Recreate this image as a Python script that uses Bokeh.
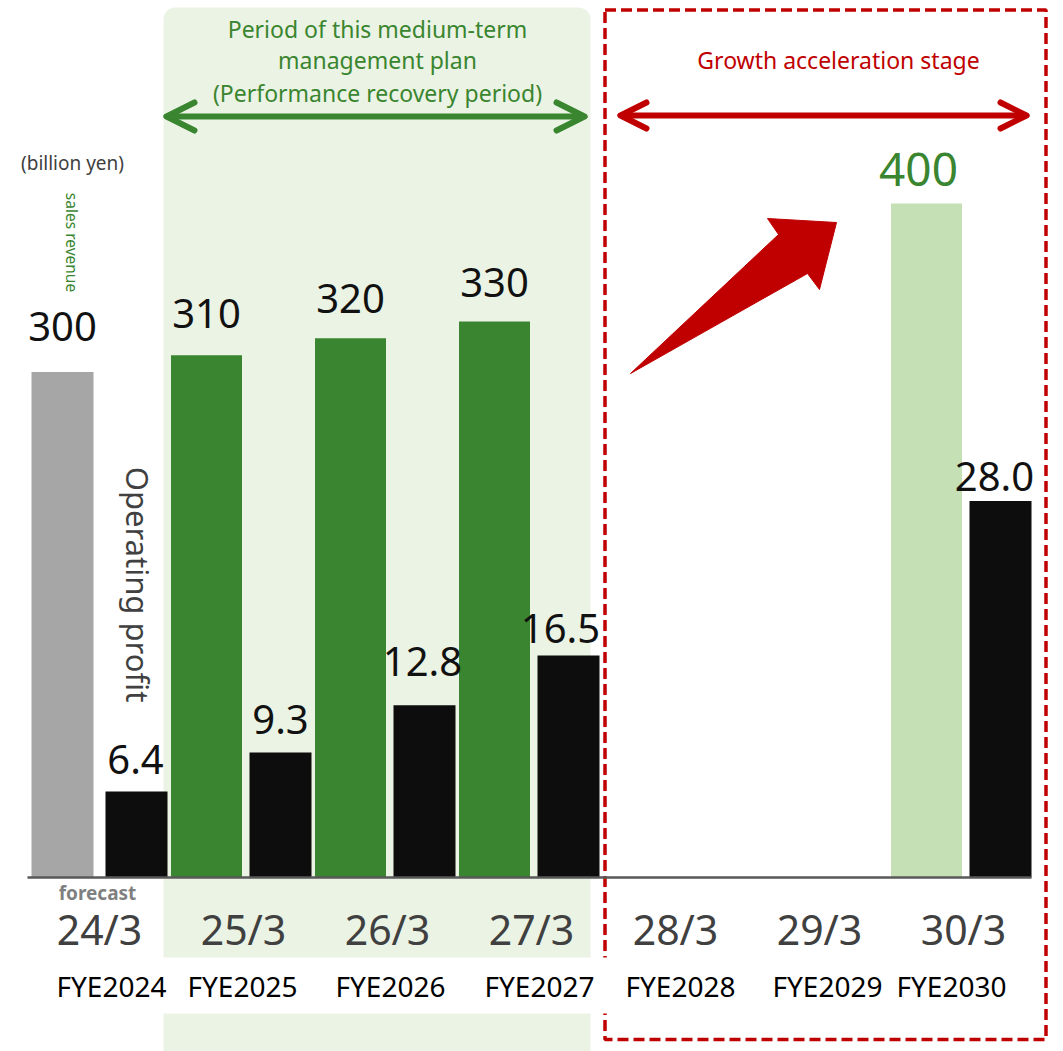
import math
from bokeh.plotting import figure
from bokeh.models import Range1d, ColumnDataSource, Arrow, OpenHead
from bokeh.core.properties import value
from bokeh.embed import file_html
from bokeh.resources import INLINE

# ---------------- data ----------------
periods = ["24/3", "25/3", "26/3", "27/3", "28/3", "29/3", "30/3"]
fiscal_years = ["FYE2024", "FYE2025", "FYE2026", "FYE2027", "FYE2028", "FYE2029", "FYE2030"]
sales_revenue = [300, 310, 320, 330, None, None, 400]
operating_profit = [6.4, 9.3, 12.8, 16.5, None, None, 28.0]
sales_text = ["300", "310", "320", "330", None, None, "400"]
profit_text = ["6.4", "9.3", "12.8", "16.5", None, None, "28.0"]

# ---------------- styles ----------------
W, H = 1063, 1051
GROUP_PX = 144.0     # pixels per period
FIRST_PX = 99.0      # pixel centre of first period
BASE_PX = 877.0      # baseline (pixels from top)
SALES_PX = 1.685     # px per billion yen (sales)
PROFIT_PX = 13.45    # px per billion yen (profit)
OFF = 37.0 / GROUP_PX
BL = 0.41            # svg baseline correction (fraction of font size)

GREEN = "#3A852F"
LIGHT_GREEN = "#C5E0B4"
PANEL = "#EBF3E4"
GRAY = "#A6A6A6"
BLACK = "#0D0D0D"
RED = "#C00000"
DARK = "#404040"
FONT = value("Noto Sans")

sales_colors = [GRAY, GREEN, GREEN, GREEN, None, None, LIGHT_GREEN]
sales_widths = [62, 71, 71, 71, None, None, 71]
sales_label_colors = ["#111111"] * 4 + [None, None, GREEN]
sales_label_px = [40, 40, 40, 40, None, None, 46]
sales_gap = [29, 25, 23, 23, None, None, 15]
profit_gap = [16, 17, 27, 11, None, None, 8]
profit_nudge = [-1, 0, -2, -8, None, None, -6]
sales_nudge = [0, 0, 0, 0, None, None, -8]
fye_nudge = [12, -1, 3, 8, 5, 8, -12]
VAL_PX = 40


def base(y, size):
    return y - BL * size


p = figure(width=W, height=H, output_backend="svg", toolbar_location=None,
           x_axis_type=None, y_axis_type=None, min_border=0,
           x_range=Range1d(-FIRST_PX / GROUP_PX, (W - FIRST_PX) / GROUP_PX),
           y_range=Range1d(-(H - BASE_PX) / SALES_PX, BASE_PX / SALES_PX))
p.extra_y_ranges = {
    "profit": Range1d(-(H - BASE_PX) / PROFIT_PX, BASE_PX / PROFIT_PX),
    "px": Range1d(H, 0),
}
p.extra_x_ranges = {"px": Range1d(0, W)}
p.outline_line_color = None
p.grid.visible = False
p.background_fill_color = "white"
p.border_fill_color = "white"

# background panel for plan period
p.quad(left=[163], right=[590], top=[7], bottom=[1070], fill_color=PANEL,
       line_color=None, border_radius=12, x_range_name="px", y_range_name="px")
# growth stage dashed frame
p.quad(left=[604.5], right=[1045.5], top=[9.5], bottom=[1039], fill_color=None,
       line_color=RED, line_width=3.5, line_dash="11 5",
       x_range_name="px", y_range_name="px")
# white band behind FYE labels
p.quad(left=[0], right=[610], top=[957], bottom=[1013], fill_color="white",
       line_color=None, x_range_name="px", y_range_name="px")

# ---------------- bars ----------------
idx = list(range(len(periods)))
s_rows = [i for i in idx if sales_revenue[i] is not None]
p_rows = [i for i in idx if operating_profit[i] is not None]

sales_src = ColumnDataSource(dict(
    x=[i - OFF for i in s_rows],
    top=[sales_revenue[i] for i in s_rows],
    w=[sales_widths[i] / GROUP_PX for i in s_rows],
    color=[sales_colors[i] for i in s_rows],
    label=[sales_text[i] for i in s_rows],
    lcolor=[sales_label_colors[i] for i in s_rows],
    lsize=["%dpx" % sales_label_px[i] for i in s_rows],
    gap=[-(sales_gap[i] + BL * sales_label_px[i]) for i in s_rows],
    nudge=[sales_nudge[i] for i in s_rows],
))
profit_src = ColumnDataSource(dict(
    x=[i + OFF for i in p_rows],
    top=[operating_profit[i] for i in p_rows],
    label=[profit_text[i] for i in p_rows],
    gap=[-(profit_gap[i] + BL * VAL_PX) for i in p_rows],
    nudge=[profit_nudge[i] for i in p_rows],
))

p.vbar(x="x", top="top", bottom=0, width="w", source=sales_src,
       fill_color="color", line_color=None)
p.vbar(x="x", top="top", bottom=0, width=62 / GROUP_PX, source=profit_src,
       fill_color=BLACK, line_color=None, y_range_name="profit")

# baseline
p.line(x=[27, 1031], y=[BASE_PX, BASE_PX], line_color="#595959", line_width=2.5,
       x_range_name="px", y_range_name="px")

# value labels
p.text(x="x", y="top", text="label", source=sales_src, text_align="center",
       text_baseline="alphabetic", text_font=FONT, text_font_size="lsize",
       text_color="lcolor", y_offset="gap", x_offset="nudge")
p.text(x="x", y="top", text="label", source=profit_src, text_align="center",
       text_baseline="alphabetic", text_font=FONT, text_font_size="%dpx" % VAL_PX,
       text_color="#111111", y_offset="gap", x_offset="nudge", y_range_name="profit")

# period labels
p.text(x=idx, y=[base(945, 41)] * len(idx), text=periods, text_align="center",
       text_baseline="alphabetic", text_font=FONT, text_font_size="41px",
       text_color=DARK, y_range_name="px")
p.text(x=idx, y=[base(997, 28)] * len(idx), text=fiscal_years, x_offset=fye_nudge,
       text_align="center", text_baseline="alphabetic", text_font=FONT,
       text_font_size="28px", text_color="black", y_range_name="px")
p.text(x=[97], y=[base(900, 19)], text=["forecast"], text_align="center",
       text_baseline="alphabetic", text_font=FONT, text_font_size="19px",
       text_font_style="bold", text_color="#7F7F7F",
       x_range_name="px", y_range_name="px")

# headers
p.text(x=[377, 377, 377], y=[base(38, 23), base(69, 23), base(102, 23)],
       text=["Period of this medium-term", "management plan", "(Performance recovery period)"],
       text_align="center", text_baseline="alphabetic", text_font=FONT,
       text_font_size="23px", text_color=GREEN, x_range_name="px", y_range_name="px")
p.text(x=[838], y=[base(69, 23)], text=["Growth acceleration stage"], text_align="center",
       text_baseline="alphabetic", text_font=FONT, text_font_size="23px",
       text_color=RED, x_range_name="px", y_range_name="px")

# units and axis names
p.text(x=[72], y=[base(170, 19)], text=["(billion yen)"], text_align="center",
       text_baseline="alphabetic", text_font=FONT, text_font_size="19px",
       text_color=DARK, x_range_name="px", y_range_name="px")
p.text(x=[71], y=[242], text=["sales revenue"], text_align="center",
       text_baseline="middle", text_font=FONT, text_font_size="15.5px",
       text_color=GREEN, angle=-math.pi / 2, x_range_name="px", y_range_name="px")
p.text(x=[137], y=[584], text=["Operating profit"], text_align="center",
       text_baseline="middle", text_font=FONT, text_font_size="31px",
       text_color=DARK, angle=-math.pi / 2, x_range_name="px", y_range_name="px")


# period arrows
def dbl_arrow(x0, x1, y, color, size):
    head = dict(size=size, line_width=6, line_color=color, line_join="round", line_cap="round")
    p.add_layout(Arrow(x_start=x0, y_start=y, x_end=x1, y_end=y,
                       start=OpenHead(**head), end=OpenHead(**head),
                       line_color=color, line_width=6, line_cap="round",
                       x_range_name="px", y_range_name="px"))


dbl_arrow(166, 584, 116, GREEN, 28)
dbl_arrow(620, 1026, 115, RED, 26)

# big growth arrow
p.patch(x=[630, 778, 767, 836, 819, 807], y=[373, 234, 218, 222, 289, 273],
        fill_color=RED, line_color=RED, line_width=1,
        x_range_name="px", y_range_name="px")

open("out.html", "w").write(file_html(p, INLINE))
